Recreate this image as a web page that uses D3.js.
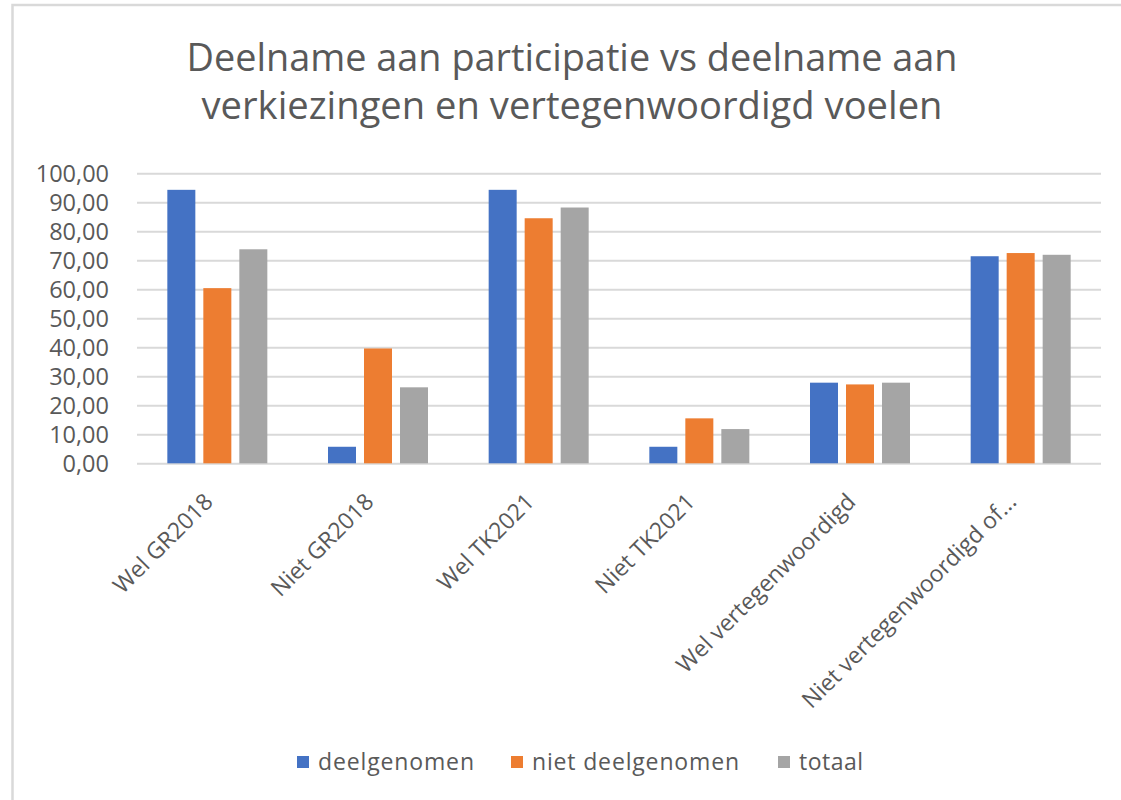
<!DOCTYPE html>
<html>
<head>
<meta charset="utf-8">
<script src="https://cdn.jsdelivr.net/npm/d3@7"></script>
<style>
  html, body { margin: 0; padding: 0; background: #ffffff; }
  svg { display: block; }
  text { font-family: "Open Sans", "Noto Sans", sans-serif; fill: #595959; }
</style>
</head>
<body>
<svg id="chart" width="1121" height="800"></svg>
<script>
// ---- data ----
const categories = ["Wel GR2018", "Niet GR2018", "Wel TK2021", "Niet TK2021", "Wel vertegenwoordigd", "Niet vertegenwoordigd of..."];
const seriesNames = ["deelgenomen", "niet deelgenomen", "totaal"];
const deelgenomen = [94.3, 5.7, 94.3, 5.7, 27.8, 71.4];
const nietDeelgenomen = [60.4, 39.6, 84.5, 15.5, 27.2, 72.5];
const totaal = [73.8, 26.2, 88.2, 11.8, 27.8, 71.9];
const yTicks = [0, 10, 20, 30, 40, 50, 60, 70, 80, 90, 100];
const titleLines = ["Deelname aan participatie vs deelname aan", "verkiezingen en vertegenwoordigd voelen"];
const colors = ["#4472C4", "#ED7D31", "#A5A5A5"];

const seriesValues = [deelgenomen, nietDeelgenomen, totaal];
const rows = categories.map((c, i) => ({
  cat: c,
  vals: seriesNames.map((s, j) => ({ s, v: seriesValues[j][i] }))
}));

const svg = d3.select("#chart");

// frame
svg.append("rect").attr("x", 12.5).attr("y", 5).attr("width", 1200).attr("height", 900)
  .attr("fill", "none").attr("stroke", "#D9D9D9").attr("stroke-width", 2.5);

// title
const title = svg.append("g");
const titleY = [71, 119];
const titleW = [771, 741];
titleLines.forEach((t, i) => {
  title.append("text").attr("x", 572).attr("y", titleY[i]).attr("text-anchor", "middle")
    .attr("font-size", 38).attr("textLength", titleW[i]).attr("lengthAdjust", "spacingAndGlyphs")
    .text(t);
});

// scales
const plot = { left: 137, right: 1101, top: 173.3, bottom: 463.3 };
const x0 = d3.scaleBand().domain(categories).range([plot.left, plot.right]).paddingInner(0).paddingOuter(0);
const cw = x0.bandwidth();
const x1 = d3.scaleBand().domain(seriesNames).range([(cw - 100) / 2, (cw + 100) / 2]).paddingInner(8 / 36).paddingOuter(0);
const y = d3.scaleLinear().domain([0, 100]).range([plot.bottom, plot.top]);
const color = d3.scaleOrdinal().domain(seriesNames).range(colors);

// gridlines
const yAxis = d3.axisLeft(y).tickValues(yTicks)
  .tickSize(-(plot.right - plot.left)).tickPadding(28)
  .tickFormat(d => d3.format(".2f")(d).replace(".", ","));
const gy = svg.append("g").attr("transform", `translate(${plot.left},0)`).call(yAxis);
gy.select(".domain").remove();
gy.selectAll(".tick line").attr("stroke", "#D9D9D9").attr("stroke-width", 2);
gy.selectAll(".tick text").attr("font-size", 23.5).attr("fill", "#595959")
  .style("font-family", "'Open Sans', sans-serif").attr("dy", "0.35em");

// bars
const groups = svg.append("g").selectAll("g").data(rows).join("g")
  .attr("transform", d => `translate(${x0(d.cat)},0)`);
groups.selectAll("rect").data(d => d.vals).join("rect")
  .attr("x", d => x1(d.s)).attr("width", x1.bandwidth())
  .attr("y", d => y(d.v)).attr("height", d => y(0) - y(d.v))
  .attr("fill", d => color(d.s));

// x labels
const xAxis = d3.axisBottom(x0).tickSize(0).tickPadding(0);
const gx = svg.append("g").attr("transform", `translate(0,${plot.bottom})`).call(xAxis);
gx.select(".domain").remove();
gx.selectAll(".tick text")
  .attr("font-size", 23).attr("fill", "#595959")
  .style("font-family", "'Open Sans', sans-serif")
  .attr("text-anchor", "end").attr("dy", 0).attr("y", 0)
  .attr("transform", "translate(-3,40) rotate(-45)");

// legend
const legendX = [297, 511, 778];
const legendW = [156, 207, 64];
const lg = svg.append("g").selectAll("g").data(seriesNames).join("g")
  .attr("transform", (d, i) => `translate(${legendX[i]},756)`);
lg.append("rect").attr("width", 12).attr("height", 12).attr("fill", d => color(d));
lg.append("text").attr("x", 21).attr("y", 14).attr("font-size", 23)
  .attr("textLength", (d, i) => legendW[i]).attr("lengthAdjust", "spacing")
  .text(d => d);
</script>
</body>
</html>
